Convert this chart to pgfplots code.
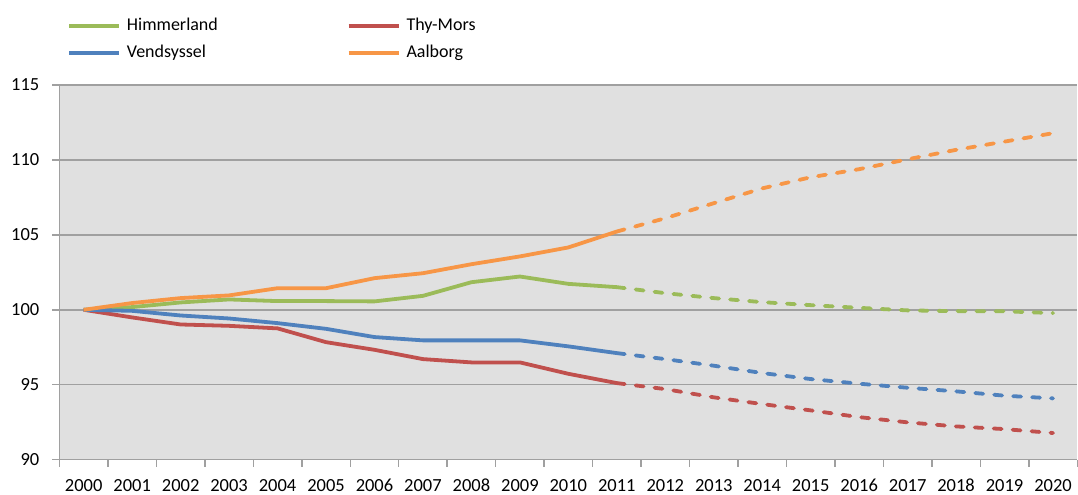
\documentclass[border=0pt]{standalone}
\usepackage{fontspec}
\setmainfont{Carlito}
\usepackage{pgfplots}
\usepackage{pgfplotstable}
\pgfplotsset{compat=1.18}
\definecolor{cgreen}{HTML}{9BBB59}
\definecolor{cred}{HTML}{C0504D}
\definecolor{cblue}{HTML}{4F81BD}
\definecolor{corange}{HTML}{F79646}
\definecolor{bg}{HTML}{E0E0E0}
\definecolor{gridc}{HTML}{A0A0A0}
\pgfplotstableread{
x h t v a
0 100 100 100 100
1 100.18 99.49 99.93 100.45
2 100.49 99.02 99.62 100.78
3 100.69 98.93 99.42 100.96
4 100.58 98.76 99.11 101.44
5 100.58 97.84 98.73 101.44
6 100.56 97.33 98.18 102.11
7 100.93 96.71 97.96 102.44
8 101.84 96.49 97.96 103.04
9 102.22 96.49 97.96 103.56
10 101.73 95.73 97.56 104.16
11 101.51 95.11 97.11 105.22
}\hist
\pgfplotstableread{
x h t v a
11 101.51 95.11 97.11 105.22
12 101.11 94.71 96.71 106.11
13 100.78 94.16 96.27 107.11
14 100.51 93.71 95.78 108.10
15 100.31 93.29 95.38 108.84
16 100.13 92.84 95.07 109.38
17 99.96 92.49 94.80 110.04
18 99.91 92.22 94.56 110.67
19 99.90 92.04 94.27 111.22
20 99.78 91.78 94.09 111.78
}\proj
\begin{document}
\begin{tikzpicture}
\begin{axis}[
  name=ax,
  scale only axis,
  width=1018.5pt, height=375pt,
  xmin=-0.5, xmax=20.5,
  ymin=90, ymax=115,
  ytick={90,95,...,115},
  xtick={0,...,20},
  xticklabels={2000,2001,2002,2003,2004,2005,2006,2007,2008,2009,2010,2011,2012,2013,2014,2015,2016,2017,2018,2019,2020},
  minor xtick={-0.5,0.5,...,20.5},
  axis x line*=bottom,
  axis y line*=left,
  axis line style={gridc, line width=1.5pt},
  tick align=outside,
  major tick length=7pt,
  minor tick length=7pt,
  x tick style={draw=none},
  minor x tick style={draw=gridc, line width=1.5pt},
  y tick style={gridc, line width=1.5pt},
  ymajorgrids,
  major grid style={gridc, line width=1.5pt},
  axis background/.style={fill=bg},
  tick label style={font=\fontsize{18.5}{22}\selectfont},
  /pgf/number format/assume math mode=true,
  yticklabel style={inner sep=0pt, xshift=-13pt},
  xticklabel style={inner sep=0pt, anchor=north, text height=13pt, text depth=0pt, yshift=-11.5pt},
  legend columns=2,
  legend cell align=left,
  legend image code/.code={\draw[#1] (0pt,0pt) -- (50pt,0pt);},
  legend style={at={(axis description cs:0.0074,1.181)}, anchor=north west,
    draw=none, fill=none, inner sep=0pt,
    font=\fontsize{18}{22}\selectfont,
    nodes={inner sep=0pt, text height=13pt, text depth=4pt},
    row sep=10pt,
    /tikz/every odd column/.append style={column sep=6pt},
    /tikz/every even column/.append style={column sep=129pt}},
  every axis plot/.append style={line width=3.8pt, line join=round},
]
\addplot[cgreen] table[x=x,y=h]{\hist};
\addlegendentry{Himmerland}
\addplot[cred] table[x=x,y=t]{\hist};
\addlegendentry{Thy-Mors}
\addplot[cblue] table[x=x,y=v]{\hist};
\addlegendentry{Vendsyssel}
\addplot[corange] table[x=x,y=a]{\hist};
\addlegendentry{Aalborg}
\addplot[cgreen, forget plot, line cap=round, dash pattern=on 8pt off 11pt] table[x=x,y=h]{\proj};
\addplot[cred, forget plot, line cap=round, dash pattern=on 8pt off 11pt] table[x=x,y=t]{\proj};
\addplot[cblue, forget plot, line cap=round, dash pattern=on 8pt off 11pt] table[x=x,y=v]{\proj};
\addplot[corange, forget plot, line cap=round, dash pattern=on 8pt off 11pt] table[x=x,y=a]{\proj};
\end{axis}
\path ([xshift=-59.5pt,yshift=-35pt]ax.south west) rectangle ([yshift=85pt]ax.north east);
\end{tikzpicture}
\end{document}
